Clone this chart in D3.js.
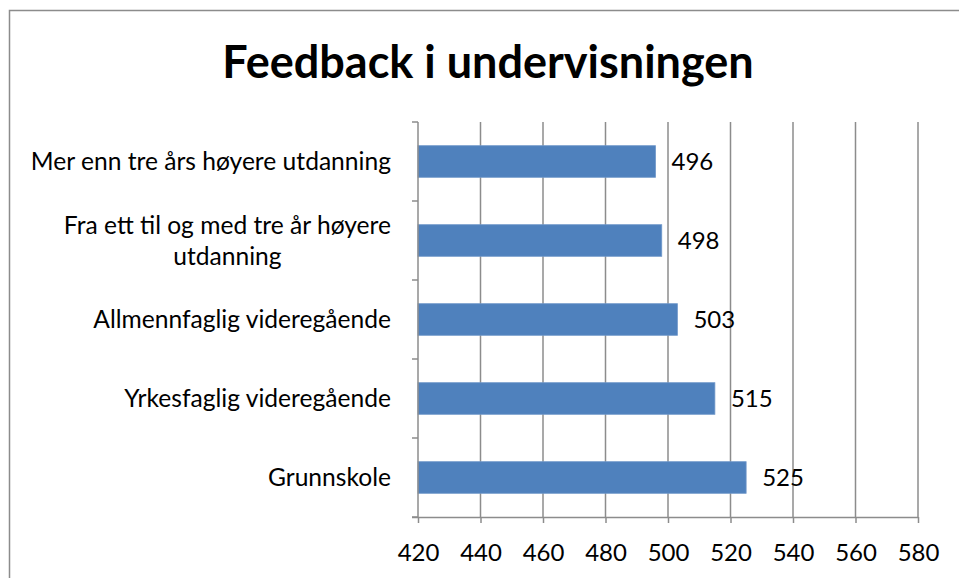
<!DOCTYPE html>
<html>
<head>
<meta charset="utf-8">
<script src="https://cdn.jsdelivr.net/npm/d3@7"></script>
<style>
  html, body { margin: 0; padding: 0; background: #fff; }
  svg { display: block; }
  text { font-family: Lato, "Open Sans", sans-serif; fill: #000; }
</style>
</head>
<body>
<svg id="chart" width="959" height="578"></svg>
<script>
// Categories, top to bottom; second one wraps onto two lines
const categories = [
  "Mer enn tre års høyere utdanning",
  "Fra ett til og med tre år høyere utdanning",
  "Allmennfaglig videregående",
  "Yrkesfaglig videregående",
  "Grunnskole"
];
const categoryLines = [
  ["Mer enn tre års høyere utdanning"],
  ["Fra ett til og med tre år høyere", "utdanning"],
  ["Allmennfaglig videregående"],
  ["Yrkesfaglig videregående"],
  ["Grunnskole"]
];
const values = [496, 498, 503, 515, 525];
const xTicks = [420, 440, 460, 480, 500, 520, 540, 560, 580];
const title = "Feedback i undervisningen";

const svg = d3.select("#chart");
const W = 959, H = 578;
const plot = { left: 418, right: 918, top: 122, bottom: 517 };
const fontSize = "24px";
const labelSize = "24.6px";

// outer chart frame (runs off the right and bottom edges)
svg.append("rect")
  .attr("x", 9.5).attr("y", 10.5)
  .attr("width", W + 20).attr("height", H + 20)
  .attr("fill", "none").attr("stroke", "#8c8c8c").attr("stroke-width", 1.5);

svg.append("text")
  .attr("x", 488).attr("y", 78)
  .attr("text-anchor", "middle")
  .style("font-size", "45px").style("font-weight", "bold")
  .text(title);

const x = d3.scaleLinear().domain([420, 580]).range([plot.left, plot.right]);
const y = d3.scaleBand().domain(categories).range([plot.top, plot.bottom])
  .paddingInner(0.6).paddingOuter(0.3);
const yOuter = d3.scaleBand().domain(categories).range([plot.top, plot.bottom]);

const gridColor = "#8c8c8c";

// vertical gridlines
svg.append("g").selectAll("line").data(xTicks.slice(1)).join("line")
  .attr("x1", d => x(d)).attr("x2", d => x(d))
  .attr("y1", plot.top).attr("y2", plot.bottom)
  .attr("stroke", gridColor).attr("stroke-width", 1.5);

// bars
svg.append("g").selectAll("rect").data(values).join("rect")
  .attr("x", x(420))
  .attr("y", (d, i) => y(categories[i]))
  .attr("width", d => x(d) - x(420))
  .attr("height", y.bandwidth())
  .attr("fill", "#4f81bd")
  .attr("stroke", "#6f97c9").attr("stroke-width", 0.8);

// value labels
svg.append("g").selectAll("text").data(values).join("text")
  .attr("x", d => x(d) + 16)
  .attr("y", (d, i) => y(categories[i]) + y.bandwidth() / 2)
  .attr("dy", "0.35em")
  .style("font-size", fontSize)
  .text(d => d);

// x axis
const xAxis = d3.axisBottom(x).tickValues(xTicks).tickSize(6).tickPadding(21).tickFormat(d3.format("d"));
const gx = svg.append("g").attr("transform", `translate(0,${plot.bottom})`).call(xAxis);
gx.select(".domain").attr("stroke", gridColor).attr("stroke-width", 1.5)
  .attr("d", `M${plot.left - 6},0.5H${plot.right}`);
gx.selectAll(".tick line").attr("stroke", gridColor).attr("stroke-width", 1.5);
gx.selectAll(".tick text").style("font-size", fontSize).style("font-family", "Lato, 'Open Sans', sans-serif").attr("fill", "#000");

// y axis line with ticks at band boundaries
const bounds = categories.map(c => yOuter(c)).concat([plot.bottom]);
svg.append("line")
  .attr("x1", plot.left).attr("x2", plot.left)
  .attr("y1", plot.top).attr("y2", plot.bottom)
  .attr("stroke", gridColor).attr("stroke-width", 1.5);
svg.append("g").selectAll("line").data(bounds).join("line")
  .attr("x1", plot.left - 6).attr("x2", plot.left)
  .attr("y1", d => d).attr("y2", d => d)
  .attr("stroke", gridColor).attr("stroke-width", 1.5);

// category labels: single lines right-aligned, wrapped labels centred in their block
const labelRight = 391;
const labels = svg.append("g");
categoryLines.forEach((lines, i) => {
  const cy = y(categories[i]) + y.bandwidth() / 2;
  const lh = 31;
  const g = labels.append("g");
  const texts = lines.map((ln, j) => g.append("text")
    .attr("y", cy + (j - (lines.length - 1) / 2) * lh)
    .attr("dy", "0.35em")
    .style("font-size", labelSize)
    .text(ln));
  if (lines.length === 1) {
    texts[0].attr("x", labelRight).attr("text-anchor", "end");
  } else {
    const widest = d3.max(texts, t => t.node().getComputedTextLength());
    texts.forEach(t => t.attr("x", labelRight - widest / 2).attr("text-anchor", "middle"));
  }
});
</script>
</body>
</html>
